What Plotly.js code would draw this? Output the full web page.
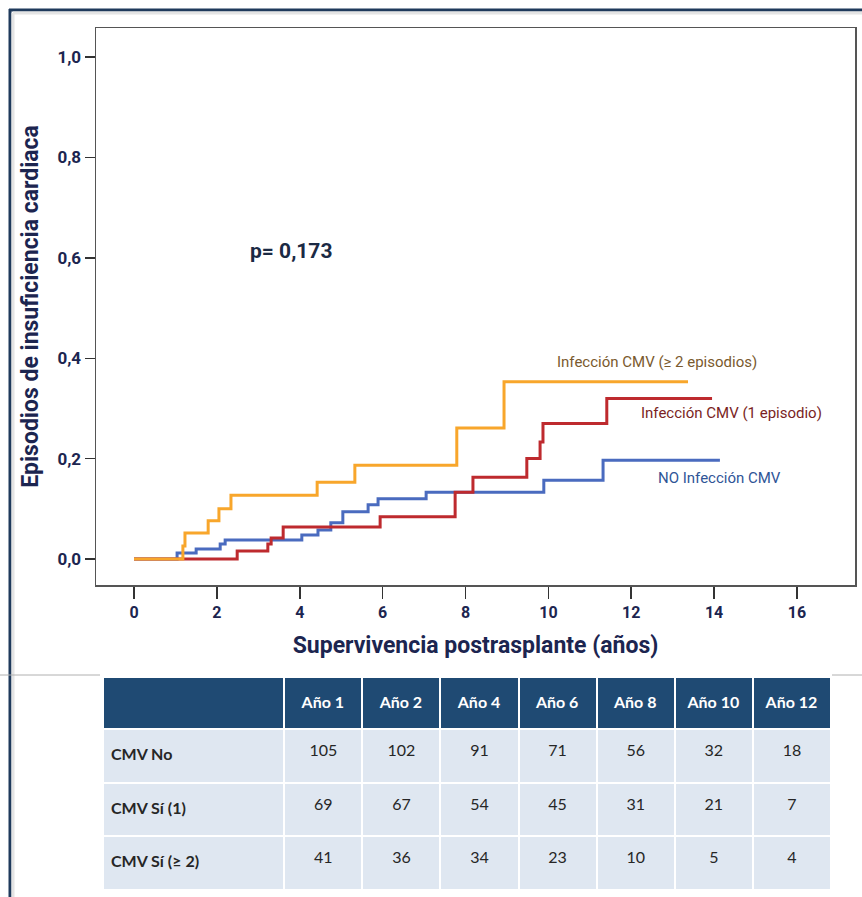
<!DOCTYPE html>
<html><head><meta charset="utf-8">
<script src="https://cdn.plot.ly/plotly-3.0.1.min.js"></script>
<style>html,body{margin:0;padding:0;background:#fff;}#chart{width:862px;height:897px;}</style>
</head><body><div id="chart"></div>
<script>
// Kaplan-Meier step data (years, cumulative incidence)
const tNo = [0, 1.04, 1.50, 2.08, 2.20, 4.05, 4.44, 4.75, 5.04, 5.65, 5.89, 7.05, 9.89, 11.32, 14.14];
const vNo = [0, 0.012, 0.02, 0.03, 0.038, 0.048, 0.058, 0.072, 0.094, 0.108, 0.12, 0.133, 0.157, 0.197, 0.197];
const tOne = [0, 2.49, 3.23, 3.31, 3.60, 5.94, 7.75, 8.18, 9.48, 9.80, 9.87, 11.41, 13.95];
const vOne = [0, 0.016, 0.03, 0.042, 0.064, 0.084, 0.133, 0.163, 0.2, 0.233, 0.27, 0.32, 0.32];
const tTwo = [0, 1.18, 1.23, 1.79, 2.05, 2.34, 4.42, 5.33, 7.79, 8.93, 13.37];
const vTwo = [0, 0.026, 0.052, 0.076, 0.10, 0.127, 0.153, 0.187, 0.261, 0.353, 0.353];

const seriesNames = ['NO Infección CMV', 'Infección CMV (1 episodio)', 'Infección CMV (≥ 2 episodios)'];

// Table
const tableHeader = ['', 'Año 1', 'Año 2', 'Año 4', 'Año 6', 'Año 8', 'Año 10', 'Año 12'];
const rowLabels = ['CMV No', 'CMV Sí (1)', 'CMV Sí (≥ 2)'];
const rowNo = [105, 102, 91, 71, 56, 32, 18];
const rowOne = [69, 67, 54, 45, 31, 21, 7];
const rowTwo = [41, 36, 34, 23, 10, 5, 4];

const W = 862, H = 897;
const px = v => v / W, py = v => 1 - v / H;
const cond = 'Roboto, sans-serif';
const navy = '#1c2550';

const rows = [rowNo, rowOne, rowTwo];
const cellCols = [rowLabels.map(s => '<b>' + s + '</b>')];
for (let c = 0; c < tableHeader.length - 1; c++) cellCols.push(rows.map(r => r[c]));
const colW = [181, 78, 78, 78, 78, 78, 78, 78];
const tFont = 'Lato, Open Sans, sans-serif';
const shift = 7;

const traces = [
  {x: tNo, y: vNo, mode: 'lines', line: {shape: 'hv', color: '#4a6bbf', width: 3}, name: seriesNames[0], hoverinfo: 'skip'},
  {x: tOne, y: vOne, mode: 'lines', line: {shape: 'hv', color: '#be2a2e', width: 3}, name: seriesNames[1], hoverinfo: 'skip'},
  {x: tTwo, y: vTwo, mode: 'lines', line: {shape: 'hv', color: '#f8a62b', width: 3}, name: seriesNames[2], hoverinfo: 'skip'},
  // table backgrounds
  {type: 'table', domain: {x: [px(103), px(831)], y: [py(890), py(677)]}, columnwidth: colW,
   header: {values: tableHeader.map(() => ''), height: 52, fill: {color: '#1f4a73'}, line: {color: '#ffffff', width: 2}},
   cells: {values: cellCols.map(col => col.map(() => '')), height: 53.7, fill: {color: '#dfe7f1'}, line: {color: '#ffffff', width: 2}}},
  // table text (offset down to centre it vertically)
  {type: 'table', domain: {x: [px(103), px(831)], y: [0, py(677 + shift)]}, columnwidth: colW,
   header: {values: tableHeader.map(s => '<b>' + s + '</b>'), height: 52, fill: {color: 'rgba(0,0,0,0)'},
            line: {color: 'rgba(0,0,0,0)', width: 0}, align: 'center',
            font: {family: tFont, size: 16, color: '#ffffff'}},
   cells: {values: cellCols, height: 53.7, fill: {color: 'rgba(0,0,0,0)'},
           line: {color: 'rgba(0,0,0,0)', width: 0}, align: ['left', 'center'],
           font: {family: tFont, size: 16, color: '#262626'}}}
];

const layout = {
  width: W, height: H, showlegend: false,
  margin: {l: 0, r: 0, t: 0, b: 0},
  paper_bgcolor: '#ffffff', plot_bgcolor: '#ffffff',
  separators: ',.',
  xaxis: {domain: [px(96), px(855)], range: [-0.917, 17.40], tickvals: [0, 2, 4, 6, 8, 10, 12, 14, 16],
          showgrid: false, zeroline: false, showline: true, mirror: true, linecolor: '#555', linewidth: 1.5,
          ticks: 'outside', ticklen: 12, tickwidth: 1.5, tickcolor: '#333',
          tickfont: {family: cond, size: 16, color: navy, weight: 'bold'},
          title: {text: '<b>Supervivencia postrasplante (años)</b>', standoff: 16,
                  font: {family: cond, size: 23, color: navy}}},
  yaxis: {domain: [py(585), py(28)], range: [-0.0518, 1.058], tickvals: [0, 0.2, 0.4, 0.6, 0.8, 1.0], tickformat: '.1f',
          showgrid: false, zeroline: false, showline: true, mirror: true, linecolor: '#555', linewidth: 1.5,
          ticks: 'outside', ticklen: 10, tickwidth: 1.5, tickcolor: '#333',
          tickfont: {family: cond, size: 17, color: navy, weight: 'bold'},
          title: {text: '<b>Episodios de insuficiencia cardiaca</b>', standoff: 12,
                  font: {family: cond, size: 23, color: navy}}},
  annotations: [
    {x: 3.79, y: 0.614, xref: 'x', yref: 'y', text: '<b>p= 0,173</b>', showarrow: false,
     font: {family: cond, size: 21, color: '#1b2a44'}},
    {x: 12.62, y: 0.392, xref: 'x', yref: 'y', text: seriesNames[2], showarrow: false,
     font: {family: cond, size: 15, color: '#7a5a2e'}},
    {x: 14.43, y: 0.291, xref: 'x', yref: 'y', text: seriesNames[1], showarrow: false,
     font: {family: cond, size: 15, color: '#7a1f24'}},
    {x: 14.14, y: 0.161, xref: 'x', yref: 'y', text: seriesNames[0], showarrow: false,
     font: {family: cond, size: 15, color: '#2f5597'}}
  ],
  shapes: [
    {type: 'line', xref: 'paper', yref: 'paper', x0: px(10), x1: px(10), y0: py(9), y1: 0, line: {color: '#1f3a5c', width: 3}},
    {type: 'line', xref: 'paper', yref: 'paper', x0: px(9), x1: 1, y0: py(10), y1: py(10), line: {color: '#1f3a5c', width: 3}},
    {type: 'line', xref: 'paper', yref: 'paper', x0: px(13), x1: 1, y0: py(13), y1: py(13), line: {color: '#e4e4e4', width: 3}},
    {type: 'line', xref: 'paper', yref: 'paper', x0: px(13), x1: px(13), y0: py(13), y1: 0, line: {color: '#e4e4e4', width: 3}},
    {type: 'line', xref: 'paper', yref: 'paper', x0: 0, x1: px(100), y0: py(675), y1: py(675), line: {color: '#b0b0b0', width: 1}},
    {type: 'line', xref: 'paper', yref: 'paper', x0: px(832), x1: 1, y0: py(675), y1: py(675), line: {color: '#b0b0b0', width: 1}}
  ]
};

Plotly.newPlot('chart', traces, layout, {displayModeBar: false, staticPlot: true});
</script></body></html>
